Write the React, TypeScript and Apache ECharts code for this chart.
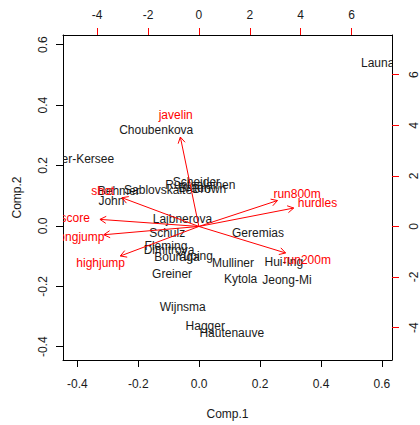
import React, { useEffect, useRef } from 'react';
import * as echarts from 'echarts';

const athletes = ['Joyner-Kersee', 'John', 'Behmer', 'Sablovskaite', 'Choubenkova', 'Schulz', 'Fleming', 'Greiner', 'Lajbnerova', 'Bouraga', 'Wijnsma', 'Dimitrova', 'Scheider', 'Braun', 'Ruotsalainen', 'Yuping', 'Hagger', 'Brown', 'Mulliner', 'Hautenauve', 'Kytola', 'Geremias', 'Hui-Ing', 'Jeong-Mi', 'Launa'];
const comp1 = [-0.407, -0.288, -0.264, -0.135, -0.141, -0.105, -0.109, -0.089, -0.055, -0.073, -0.054, -0.099, -0.009, -0.015, 0.004, -0.015, 0.020, 0.033, 0.111, 0.107, 0.136, 0.193, 0.278, 0.288, 0.586];
const comp2 = [0.221, 0.084, 0.117, 0.120, 0.318, -0.023, -0.065, -0.159, 0.023, -0.104, -0.269, -0.081, 0.146, 0.126, 0.136, -0.100, -0.330, 0.123, -0.123, -0.353, -0.175, -0.022, -0.121, -0.178, 0.538];

const variables = ['hurdles', 'highjump', 'shot', 'run200m', 'longjump', 'javelin', 'run800m', 'score'];
const load1 = [4.66, -3.86, -3.78, 4.26, -4.67, -0.91, 3.86, -4.86];
const load2 = [0.91, -1.46, 1.42, -1.31, -0.41, 4.42, 1.28, 0.35];

const scoreTicks = [-0.4, -0.2, 0.0, 0.2, 0.4, 0.6];
const loadTicks = [-4, -2, 0, 2, 4, 6];

const FAMILY = '"Liberation Sans", Arial, sans-serif';
const FONT = '12px ' + FAMILY;
const RED = '#ff0000';
const TXT = '#1a1a1a';

export default function App() {
  const ref = useRef<HTMLDivElement>(null);
  useEffect(() => {
    if (!ref.current) return;
    const chart = echarts.init(ref.current, undefined, { renderer: 'svg' });
    const axisBase = {
      type: 'value' as const,
      splitLine: { show: false },
      axisLine: { show: true, onZero: false, lineStyle: { color: '#000', width: 1 } },
    };
    chart.setOption({
      animation: false,
      backgroundColor: '#fff',
      grid: { left: 63, top: 35, width: 335, height: 332, containLabel: false },
      xAxis: [
        {
          ...axisBase,
          position: 'bottom',
          min: -0.447, max: 0.633,
          name: 'Comp.1', nameLocation: 'middle', nameGap: 48,
          nameTextStyle: { color: TXT, fontSize: 12, fontFamily: FAMILY },
          axisTick: { show: true, length: 7, customValues: scoreTicks, lineStyle: { color: '#000' } },
          axisLabel: { customValues: scoreTicks, margin: 18, color: TXT, fontSize: 12, fontFamily: FAMILY, formatter: (v: number) => v.toFixed(1) },
        },
        {
          ...axisBase,
          position: 'top',
          min: -5.34, max: 7.59,
          axisTick: { show: true, length: 7, customValues: loadTicks, lineStyle: { color: RED } },
          axisLabel: { customValues: loadTicks, margin: 14, color: TXT, fontSize: 12, fontFamily: FAMILY, formatter: (v: number) => String(v) },
        },
      ],
      yAxis: [
        {
          ...axisBase,
          position: 'left',
          min: -0.444, max: 0.632,
          name: 'Comp.2', nameLocation: 'middle', nameGap: 40,
          nameTextStyle: { color: TXT, fontSize: 12, fontFamily: FAMILY },
          axisTick: { show: true, length: 7, customValues: scoreTicks, lineStyle: { color: '#000' } },
          axisLabel: { customValues: scoreTicks, rotate: 90, margin: 14, color: TXT, fontSize: 12, fontFamily: FAMILY, formatter: (v: number) => v.toFixed(1) },
        },
        {
          ...axisBase,
          position: 'right',
          min: -5.28, max: 7.57,
          axisTick: { show: true, length: 7, customValues: loadTicks, lineStyle: { color: RED } },
          axisLabel: { customValues: loadTicks, rotate: 90, margin: 16, color: TXT, fontSize: 12, fontFamily: FAMILY, formatter: (v: number) => String(v) },
        },
      ],
      series: [
        {
          type: 'custom',
          xAxisIndex: 0, yAxisIndex: 0,
          clip: true,
          data: comp1.map((v, i) => [v, comp2[i]]),
          encode: { x: 0, y: 1 },
          renderItem: (params: any, api: any) => {
            const i = params.dataIndex;
            const p = api.coord([comp1[i], comp2[i]]);
            return {
              type: 'text',
              x: p[0], y: p[1],
              style: { text: athletes[i], fill: TXT, font: FONT, align: 'center', verticalAlign: 'middle' },
            };
          },
        },
        {
          type: 'custom',
          xAxisIndex: 1, yAxisIndex: 1,
          clip: true,
          data: load1.map((v, i) => [v, load2[i]]),
          encode: { x: 0, y: 1 },
          renderItem: (params: any, api: any) => {
            const i = params.dataIndex;
            const o = api.coord([0, 0]);
            const t = api.coord([0.8 * load1[i], 0.8 * load2[i]]);
            const ang = Math.atan2(t[1] - o[1], t[0] - o[0]);
            const L = 7, a = Math.PI / 6;
            const p1 = [t[0] - L * Math.cos(ang - a), t[1] - L * Math.sin(ang - a)];
            const p2 = [t[0] - L * Math.cos(ang + a), t[1] - L * Math.sin(ang + a)];
            return {
              type: 'group',
              children: [
                { type: 'line', shape: { x1: o[0], y1: o[1], x2: t[0], y2: t[1] }, style: { stroke: RED, lineWidth: 1 } },
                { type: 'polyline', shape: { points: [p1, t, p2] }, style: { stroke: RED, fill: null, lineWidth: 1 } },
              ],
            };
          },
        },
        {
          type: 'custom',
          xAxisIndex: 1, yAxisIndex: 1,
          clip: true,
          data: load1.map((v, i) => [v, load2[i]]),
          encode: { x: 0, y: 1 },
          renderItem: (params: any, api: any) => {
            const i = params.dataIndex;
            const p = api.coord([load1[i], load2[i]]);
            return {
              type: 'text',
              x: p[0], y: p[1],
              style: { text: variables[i], fill: RED, font: FONT, align: 'center', verticalAlign: 'middle' },
            };
          },
        },
      ],
    });
    return () => chart.dispose();
  }, []);
  return <div ref={ref} style={{ position: 'absolute', left: 0, top: 0, width: 420, height: 425, background: '#fff' }} />;
}
